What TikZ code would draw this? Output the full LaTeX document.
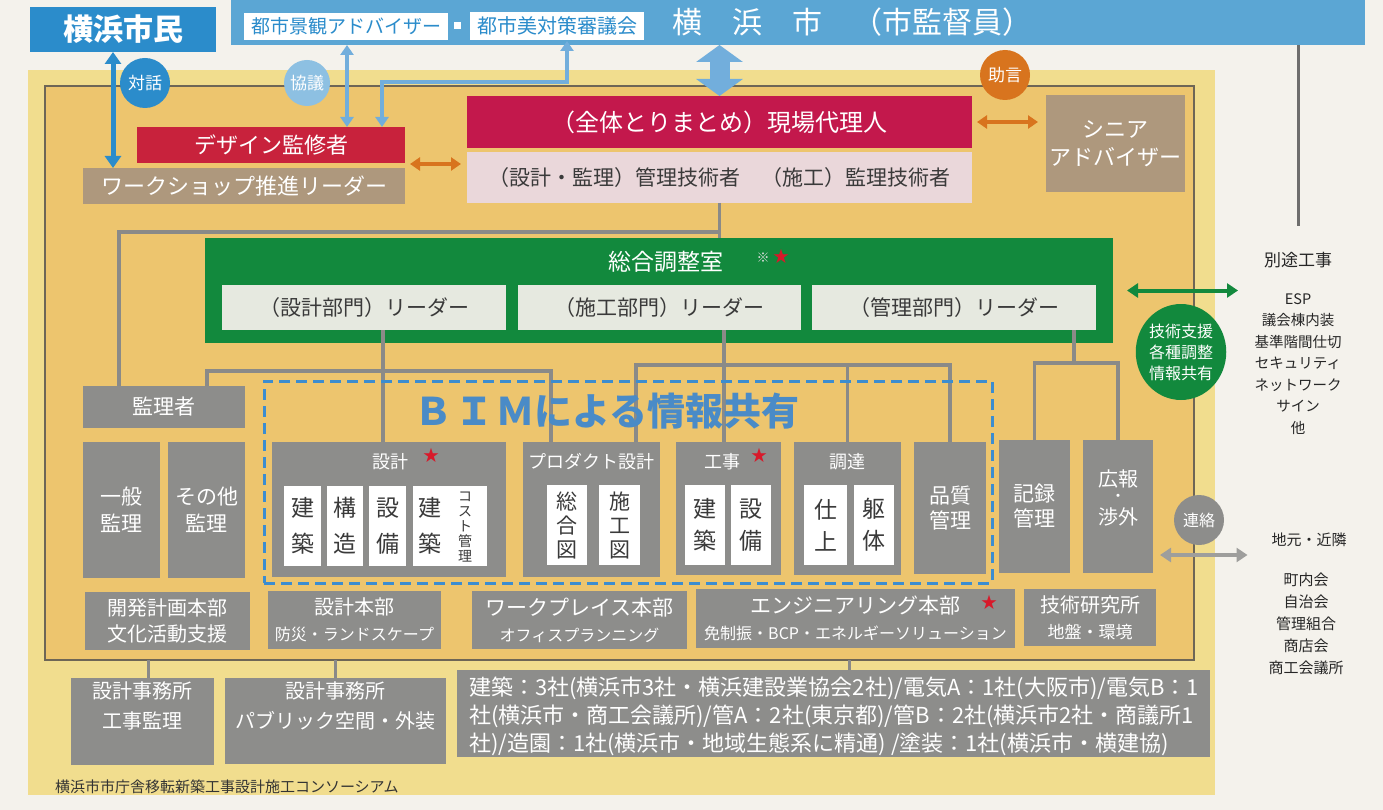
\documentclass[tikz,border=0pt]{standalone}
\usepackage{fontspec}
\setmainfont{Noto Sans CJK JP}
\usetikzlibrary{arrows.meta,shapes.geometric}
\definecolor{pagebg}{HTML}{F4F2EC}
\definecolor{topblue}{HTML}{5BA6D4}
\definecolor{citblue}{HTML}{2B8CCB}
\definecolor{lblue}{HTML}{72AEDC}
\definecolor{kyogiblue}{HTML}{8DC0E2}
\definecolor{yelout}{HTML}{F1DD8E}
\definecolor{yelin}{HTML}{EDC56E}
\definecolor{frameline}{HTML}{6E6656}
\definecolor{redA}{HTML}{C8223C}
\definecolor{redB}{HTML}{C3184C}
\definecolor{taupe}{HTML}{AE987D}
\definecolor{pinkbox}{HTML}{EAD7DA}
\definecolor{orangec}{HTML}{D8741E}
\definecolor{greenc}{HTML}{12893D}
\definecolor{lightbox}{HTML}{E6E9E0}
\definecolor{grayc}{HTML}{8D8D8B}
\definecolor{linec}{HTML}{8A8A88}
\definecolor{dashblue}{HTML}{3C8DD0}
\definecolor{bimtext}{HTML}{4A8BC7}
\definecolor{darktext}{HTML}{3A3A3A}
\definecolor{starred}{HTML}{D8192A}
\newcommand{\myfs}[2]{\fontsize{#1}{#2}\selectfont}
\begin{document}
\begin{tikzpicture}[x=1pt,y=-1pt,
  xbox/.style={rectangle, inner sep=0pt, outer sep=0pt, anchor=north west, align=center},
  xgbox/.style={xbox, fill=grayc, text=white},
  xsub/.style={xbox, fill=white, text=darktext, minimum height=80},
  xplain/.style={inner sep=0pt, outer sep=0pt, align=center},
  xcirc/.style={circle, inner sep=0pt, minimum size=50pt, text=white},
  xconn/.style={draw=linec, line width=3.5pt},
  tarrow/.style={draw=citblue, line width=5pt, {Triangle[length=12pt,width=16pt]}-{Triangle[length=12pt,width=16pt]}},
  karrow/.style={draw=lblue, line width=4pt, {Triangle[length=10pt,width=13pt]}-{Triangle[length=10pt,width=13pt]}},
  fatarrow/.style={draw=lblue, line width=20pt, {Triangle[length=17pt,width=46pt]}-{Triangle[length=17pt,width=46pt]}},
  oarrow/.style={draw=orangec, line width=4pt, {Triangle[length=10pt,width=13pt]}-{Triangle[length=10pt,width=13pt]}},
  garrow/.style={draw=greenc, line width=4pt, {Triangle[length=11pt,width=14pt]}-{Triangle[length=11pt,width=14pt]}},
  rarrow/.style={draw=grayc!85!white, line width=4pt, {Triangle[length=11pt,width=14pt]}-{Triangle[length=11pt,width=14pt]}}
]
\useasboundingbox (0,0) rectangle (1383,810);
\fill[pagebg] (0,0) rectangle (1383,810);
\fill[yelout] (28,70) rectangle (1215,795);
\node[xbox, fill=yelin, draw=frameline, line width=1.2pt, minimum width=1149, minimum height=574] (frame) at (45,86) {};

% top
\node[xbox, fill=topblue, minimum width=1134, minimum height=45] (bar) at (231,0) {};
\node[xbox, fill=citblue, text=white, font=\bfseries\myfs{30}{30}, minimum width=186, minimum height=45] (citizen) at (30,7) {横浜市民};
\node[xbox, fill=white, draw=topblue, line width=2pt, text=citblue, font=\myfs{19}{19}, minimum width=206, minimum height=29] (keikan) at (243,12) {都市景観アドバイザー};
\node[xbox, fill=white, minimum width=7, minimum height=7] (dot) at (454,22) {};
\node[xbox, fill=white, draw=topblue, line width=2pt, text=citblue, font=\myfs{20}{20}, minimum width=176, minimum height=30] (bitai) at (469,11) {都市美対策審議会};
\node[xplain, anchor=west, text=white, font=\myfs{30}{30}] (city) at (672,22) {横　浜　市　（市監督員）};

\node[xcirc, fill=citblue, font=\myfs{17}{17}] (taiwa) at (145,83) {対話};
\node[xcirc, fill=kyogiblue, minimum size=46pt, font=\myfs{17}{17}] (kyogi) at (307,83) {協議};

\node[xbox, fill=redA, text=white, font=\myfs{22}{22}, minimum width=268, minimum height=36] (design) at (137,127) {デザイン監修者};
\node[xbox, fill=taupe, text=white, font=\myfs{22}{22}, minimum width=322, minimum height=36] (workshop) at (83,168) {ワークショップ推進リーダー};
\node[xbox, fill=redB, text=white, font=\myfs{24}{24}, minimum width=505, minimum height=52] (genba) at (467,96) {（全体とりまとめ）現場代理人};
\node[xbox, fill=pinkbox, text=darktext, font=\myfs{21}{21}, minimum width=505, minimum height=51] (kanri) at (467,152) {（設計・監理）管理技術者　（施工）監理技術者};
\node[xcirc, fill=orangec, font=\myfs{17}{17}] (jogen) at (1005,75) {助言};
\node[xbox, fill=taupe, text=white, font=\myfs{22}{28}, minimum width=139, minimum height=97] (senior) at (1046,95) {シニア\\アドバイザー};

% green
\node[xbox, fill=greenc, minimum width=908, minimum height=105] (sogo) at (205,238) {};
\node[xplain, text=white, font=\myfs{23}{23}] (sogotitle) at (666,262) {総合調整室};
\node[xplain, text=white!75!gray, font=\myfs{13}{13}] (kome) at (763,258) {※};
\node[xplain, text=starred, font=\myfs{16}{16}] (star0) at (781,256) {★};
\node[xbox, fill=lightbox, text=darktext, font=\myfs{21}{21}, minimum width=284, minimum height=45] (lead1) at (222,285) {（設計部門）リーダー};
\node[xbox, fill=lightbox, text=darktext, font=\myfs{21}{21}, minimum width=283, minimum height=45] (lead2) at (518,285) {（施工部門）リーダー};
\node[xbox, fill=lightbox, text=darktext, font=\myfs{21}{21}, minimum width=284, minimum height=45] (lead3) at (812,285) {（管理部門）リーダー};

\node[ellipse, fill=greenc, text=white, inner sep=0pt, minimum width=78, minimum height=96, align=center, font=\myfs{16}{21}] (shien) at (1181,352) {技術支援\\各種調整\\情報共有};

\node[xplain, font=\myfs{17}{17}, text=black!85] (betto) at (1298,260) {別途工事};
\node[xplain, font=\myfs{14.5}{21.5}, text=black!85] (bettolist) at (1298,364) {ESP\\議会棟内装\\基準階間仕切\\セキュリティ\\ネットワーク\\サイン\\他};

% middle row
\node[xgbox, font=\myfs{21}{21}, minimum width=162, minimum height=42] (kanrisha) at (83,386) {監理者};
\node[xgbox, font=\myfs{21}{27}, minimum width=77, minimum height=136] (ippan) at (83,442) {一般\\監理};
\node[xgbox, font=\myfs{21}{27}, minimum width=77, minimum height=136] (sonota) at (168,442) {その他\\監理};

\node[xgbox, minimum width=234, minimum height=135] (sekkei) at (272,442) {};
\node[xplain, text=white, font=\myfs{18}{18}] (sekkeit) at (390,462) {設計};
\node[xplain, text=starred, font=\myfs{16}{16}] (star1) at (431,455) {★};
\node[xsub, font=\myfs{23}{36}, minimum width=37] (kenA) at (284,486) {建\\築};
\node[xsub, font=\myfs{23}{36}, minimum width=36] (kozo) at (327,486) {構\\造};
\node[xsub, font=\myfs{23}{36}, minimum width=37] (setA) at (369,486) {設\\備};
\node[xsub, minimum width=74] (kenB) at (413,486) {};
\node[xplain, text=darktext, font=\myfs{23}{36}] (kenBt) at (430,526) {建\\築};
\node[xplain, text=darktext, font=\myfs{14}{15}] (cost) at (465,527) {コ\\ス\\ト\\管\\理};

\node[xgbox, minimum width=137, minimum height=135] (product) at (523,442) {};
\node[xplain, text=white, font=\myfs{18}{18}] (productt) at (591,462) {プロダクト設計};
\node[xsub, font=\myfs{21}{24}, minimum width=40] (sogozu) at (547,485) {総\\合\\図};
\node[xsub, font=\myfs{21}{24}, minimum width=41] (sekozu) at (599,485) {施\\工\\図};

\node[xgbox, minimum width=105, minimum height=133] (koji) at (676,442) {};
\node[xplain, text=white, font=\myfs{18}{18}] (kojit) at (722,462) {工事};
\node[xplain, text=starred, font=\myfs{16}{16}] (star2) at (759,455) {★};
\node[xsub, font=\myfs{23}{32}, minimum width=40] (kenC) at (685,485) {建\\築};
\node[xsub, font=\myfs{23}{32}, minimum width=40] (setB) at (731,485) {設\\備};

\node[xgbox, minimum width=107, minimum height=133] (chotatsu) at (794,442) {};
\node[xplain, text=white, font=\myfs{18}{18}] (chotatsut) at (847,462) {調達};
\node[xsub, font=\myfs{23}{32}, minimum width=43] (shiage) at (804,485) {仕\\上};
\node[xsub, font=\myfs{23}{32}, minimum width=40] (kutai) at (854,485) {躯\\体};

\node[xgbox, font=\myfs{21}{25}, minimum width=72, minimum height=132] (hinshitsu) at (914,442) {品質\\管理};
\node[xgbox, font=\myfs{21}{25}, minimum width=71, minimum height=133] (kiroku) at (999,440) {記録\\管理};
\node[xgbox, minimum width=70, minimum height=133] (koho) at (1083,440) {};
\node[xplain, text=white, font=\myfs{20}{20}] (kohoa) at (1118,479) {広報};
\node[xplain, text=white, font=\myfs{15}{15}] (kohob) at (1118,498) {・};
\node[xplain, text=white, font=\myfs{20}{20}] (kohoc) at (1118,517) {渉外};

\node[xcirc, fill=grayc, font=\myfs{16}{16}] (renraku) at (1199,520) {連絡};
\node[xplain, font=\myfs{15}{15}, text=black!85] (jimoto) at (1309,540) {地元・近隣};
\node[xplain, font=\myfs{15}{22}, text=black!85] (jimotolist) at (1306,624) {町内会\\自治会\\管理組合\\商店会\\商工会議所};

% lower row
\node[xgbox, font=\myfs{20}{26}, minimum width=165, minimum height=58] (kaihatsu) at (85,592) {開発計画本部\\文化活動支援};
\node[xgbox, font=\myfs{20}{26}, minimum width=173, minimum height=58] (sekkeihonbu) at (268,591) {設計本部\\\myfs{16}{26}防災・ランドスケープ};
\node[xgbox, font=\myfs{21}{26}, minimum width=215, minimum height=58] (workplace) at (472,591) {ワークプレイス本部\\\myfs{16}{26}オフィスプランニング};
\node[xgbox, font=\myfs{21}{26}, minimum width=319, minimum height=59] (engineering) at (696,589) {エンジニアリング本部\\\myfs{16}{26}免制振・BCP・エネルギーソリューション};
\node[xplain, text=starred, font=\myfs{16}{16}] (star3) at (989,602) {★};
\node[xgbox, font=\myfs{20}{26}, minimum width=132, minimum height=57] (giken) at (1024,589) {技術研究所\\\myfs{17}{26}地盤・環境};

% bottom
\node[xgbox, minimum width=143, minimum height=87] (jimusho1) at (71,678) {};
\node[xplain, text=white, font=\myfs{20}{30}] (jimusho1t) at (142,706) {設計事務所\\工事監理};
\node[xgbox, minimum width=221, minimum height=86] (jimusho2) at (225,678) {};
\node[xplain, text=white, font=\myfs{20}{30}] (jimusho2t) at (335,706) {設計事務所\\パブリック空間・外装};
\node[xgbox, minimum width=753, minimum height=87] (bigbox) at (457,670) {};
\node[xplain, anchor=west, align=left, text=white, font=\myfs{22}{28}] (bigboxt) at (469,716) {建築：3社(横浜市3社・横浜建設業協会2社)/電気A：1社(大阪市)/電気B：1\\社(横浜市・商工会議所)/管A：2社(東京都)/管B：2社(横浜市2社・商議所1\\社)/造園：1社(横浜市・地域生態系に精通) /塗装：1社(横浜市・横建協)};
\node[xplain, anchor=west, text=black!80, font=\myfs{15}{15}] (footer) at (55,787) {横浜市市庁舎移転新築工事設計施工コンソーシアム};

% connectors
\draw[xconn] (kanri.south) -- (kanri.south |- sogo.north);
\coordinate (jL) at (119,232);
\draw[xconn] (kanri.south |- jL) -| (kanrisha.north -| jL);
\path (lead1.south) ++(19,0) coordinate (d1);
\draw[xconn] (d1) -- (d1 |- sekkei.north);
\coordinate (h1a) at (207,371);
\coordinate (h1b) at (551,371);
\draw[xconn] (kanrisha.north -| h1a) |- (h1b) -- (h1b |- product.north);
\path (lead2.south) ++(64.5,0) coordinate (d2);
\draw[xconn] (d2) -- (d2 |- koji.north);
\coordinate (h2a) at (636,365);
\draw[xconn] (product.north -| h2a) |- (hinshitsu.north |- h2a) -- (hinshitsu.north);
\draw[xconn] (chotatsu.north |- h2a) -- (chotatsu.north);
\path (lead3.south) ++(120,0) coordinate (d3);
\coordinate (h3) at (0,363);
\draw[xconn] (d3) -- (d3 |- h3);
\draw[xconn] (kiroku.north) |- (koho.north |- h3) -- (koho.north);
\path (jimusho1.north) ++(6,0) coordinate (d4);
\draw[xconn] (d4) -- (d4 |- frame.south);
\draw[xconn] (jimusho2.north) -- (jimusho2.north |- frame.south);
\path (bigbox.north) ++(16,0) coordinate (d5);
\draw[xconn] (d5) -- (d5 |- frame.south);
\draw[draw=linec!80!black, line width=3pt, shorten >=26pt] (betto.north |- bar.south) -- (betto.north);

% arrows
\path (citizen.south) ++(-10,0) coordinate (t1);
\draw[tarrow] (t1) -- (t1 |- workshop.north);
\path (design.north) ++(76,0) coordinate (k1);
\draw[karrow] (k1 |- bar.south) -- (k1);
\path (design.north) ++(111,0) coordinate (k2);
\path (bitai.south) ++(10,0) coordinate (b1);
\coordinate (m1) at (382,82);
\draw[karrow] (b1) |- (m1) -- (k2);
\draw[fatarrow] (genba.north |- bar.south) -- (genba.north);
\path (design.south east) ++(5,1) coordinate (o1);
\draw[oarrow, shorten >=6pt] (o1) -- (o1 -| kanri.west);
\draw[oarrow, shorten <=5pt, shorten >=8pt] (genba.east) -- (genba.east -| senior.west);
\draw[garrow, shorten <=14pt, shorten >=26pt] (sogo.east) -- (sogo.east -| betto.west);
\path (koho.south east) ++(7,-18) coordinate (r1);
\draw[rarrow, shorten >=24pt] (r1) -- (r1 -| jimoto.west);

% BIM frame
\node[xbox, draw=dashblue, line width=3pt, dash pattern=on 11pt off 6pt, minimum width=728, minimum height=202] (bim) at (264,381) {};
\node[xplain, text=bimtext, font=\bfseries\myfs{38}{38}] (bimt) at (607,411) {Ｂ\hspace{3pt}Ｉ\hspace{3pt}Ｍによる情報共有};
\end{tikzpicture}
\end{document}
